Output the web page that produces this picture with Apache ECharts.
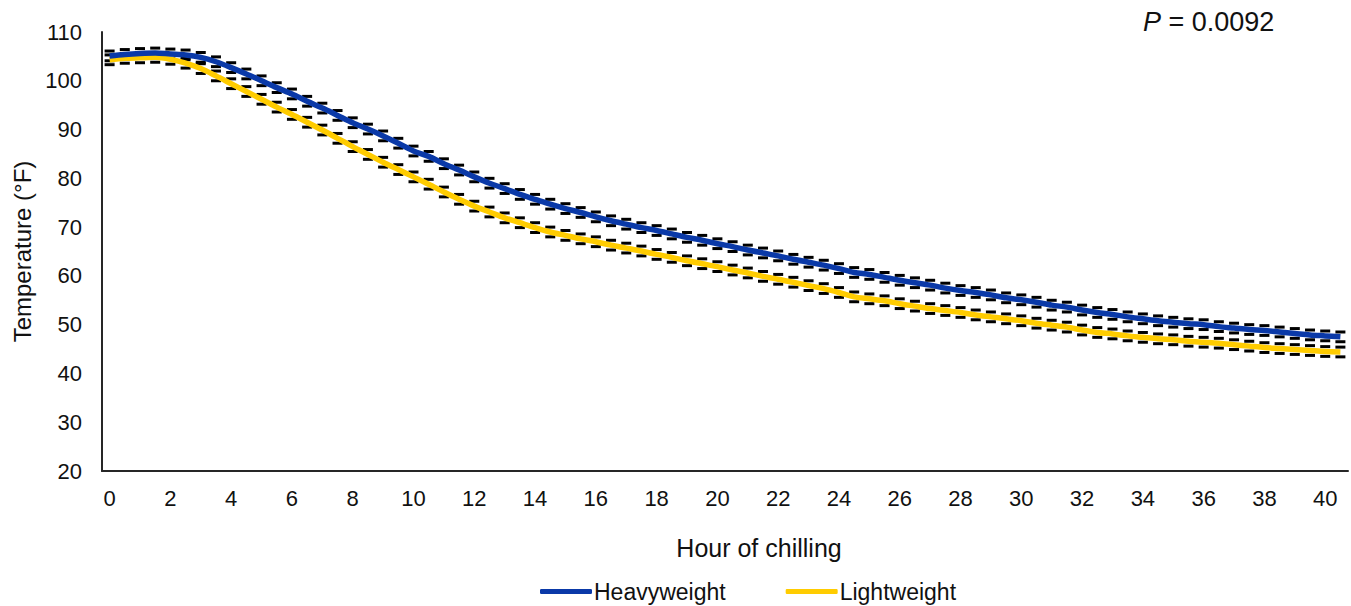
<!DOCTYPE html>
<html>
<head>
<meta charset="utf-8">
<script src="https://cdn.jsdelivr.net/npm/echarts@6/dist/echarts.min.js"></script>
<style>
html,body{margin:0;padding:0;background:#fff;}
#chart{width:1351px;height:606px;}
</style>
</head>
<body>
<div id="chart"></div>
<script>
// Hour of chilling (every 0.5 h)
const hours = [0,0.5,1,1.5,2,2.5,3,3.5,4,4.5,5,5.5,6,6.5,7,7.5,8,8.5,9,9.5,10,10.5,11,11.5,12,12.5,13,13.5,14,14.5,15,15.5,16,16.5,17,17.5,18,18.5,19,19.5,20,20.5,21,21.5,22,22.5,23,23.5,24,24.5,25,25.5,26,26.5,27,27.5,28,28.5,29,29.5,30,30.5,31,31.5,32,32.5,33,33.5,34,34.5,35,35.5,36,36.5,37,37.5,38,38.5,39,39.5,40,40.5];

const heavyweight = [105.1,105.4,105.6,105.7,105.5,105.3,104.8,103.9,102.7,101.4,100.0,98.6,97.3,95.8,94.4,92.9,91.4,90.1,88.7,87.2,85.6,84.5,83.0,81.7,80.3,79.0,77.9,76.7,75.7,74.7,73.8,73.0,72.1,71.3,70.6,69.9,69.3,68.6,67.9,67.3,66.6,66.0,65.3,64.7,64.1,63.4,62.8,62.2,61.5,60.7,60.3,59.7,59.1,58.6,58.1,57.5,57.0,56.6,56.1,55.5,55.1,54.6,54.0,53.6,53.0,52.5,52.1,51.6,51.2,50.8,50.5,50.2,50.0,49.6,49.3,49.0,48.8,48.5,48.2,47.9,47.7,47.5];

const lightweight = [104.3,104.6,104.7,104.8,104.4,103.6,102.5,101.0,99.4,97.8,96.2,94.6,93.1,91.5,89.9,88.2,86.5,84.9,83.3,81.8,80.3,78.8,77.2,75.7,74.3,73.1,71.9,70.9,69.9,69.0,68.3,67.6,67.0,66.3,65.7,65.1,64.4,63.8,63.1,62.5,61.9,61.2,60.6,59.9,59.3,58.7,58.0,57.4,56.6,55.7,55.3,54.9,54.3,53.8,53.3,52.9,52.5,52.0,51.6,51.2,50.8,50.3,49.9,49.5,48.9,48.4,48.1,47.7,47.4,47.1,46.9,46.6,46.4,46.2,45.9,45.6,45.3,45.1,44.9,44.7,44.5,44.4];

// standard error (°F) of each group
const seHeavyweight = 1.0;
const seLightweight = 1.0;

const yTicks = {min: 20, max: 110, interval: 10};

const FONT = "'Liberation Sans', Arial, sans-serif";

function errData(vals, se) {
  return vals.map((v, i) => [i, v, se]);
}

function renderCaps(params, api) {
  const x = api.value(0), v = api.value(1), e = api.value(2);
  const hi = api.coord([x, v + e]);
  const lo = api.coord([x, v - e]);
  const hw = 5;
  const st = {stroke: '#000', lineWidth: 3};
  return {
    type: 'group',
    children: [
      {type: 'line', shape: {x1: hi[0] - hw, y1: hi[1], x2: hi[0] + hw, y2: hi[1]}, style: st},
      {type: 'line', shape: {x1: lo[0] - hw, y1: lo[1], x2: lo[0] + hw, y2: lo[1]}, style: st}
    ]
  };
}

const chart = echarts.init(document.getElementById('chart'), null, {renderer: 'svg'});
chart.setOption({
  animation: false,
  backgroundColor: '#fff',
  textStyle: {fontFamily: FONT},
  grid: {left: 102, right: 3, top: 32, bottom: 135, containLabel: false},
  legend: {
    data: [{name: 'Heavyweight', icon: 'roundRect'}, {name: 'Lightweight', icon: 'roundRect'}],
    left: 535, top: 575,
    itemWidth: 52, itemHeight: 5, itemGap: 60,
    textStyle: {fontFamily: FONT, fontSize: 23, color: '#111', padding: [0, 0, 0, -3]},
    selectedMode: false
  },
  xAxis: {
    type: 'category',
    data: hours,
    boundaryGap: true,
    name: 'Hour of chilling',
    nameLocation: 'middle',
    nameGap: 64,
    nameTextStyle: {fontFamily: FONT, fontSize: 25, color: '#111', padding: [0, 0, 0, 68]},
    axisLine: {lineStyle: {color: '#262626', width: 2}},
    axisTick: {show: false},
    axisLabel: {interval: 3, fontFamily: FONT, fontSize: 22, color: '#111', margin: 16},
    splitLine: {show: false}
  },
  yAxis: {
    type: 'value',
    min: yTicks.min, max: yTicks.max, interval: yTicks.interval,
    name: 'Temperature (°F)',
    nameLocation: 'middle',
    nameGap: 68,
    nameTextStyle: {fontFamily: FONT, fontSize: 24, color: '#111'},
    axisLine: {show: true, lineStyle: {color: '#262626', width: 2}},
    axisTick: {show: false},
    axisLabel: {fontFamily: FONT, fontSize: 22, color: '#111', margin: 20},
    splitLine: {show: false}
  },
  graphic: [{
    type: 'text', left: 1143, top: 8,
    style: {
      text: '{i|P}{n| = 0.0092}',
      rich: {
        i: {fontFamily: FONT, fontSize: 27, fontStyle: 'italic', fill: '#111'},
        n: {fontFamily: FONT, fontSize: 27, fill: '#111'}
      }
    }
  }],
  series: [
    {name: 'Heavyweight SE', type: 'custom', renderItem: renderCaps, data: errData(heavyweight, seHeavyweight), encode: {x: 0, y: 1}, z: 1, silent: true},
    {name: 'Lightweight SE', type: 'custom', renderItem: renderCaps, data: errData(lightweight, seLightweight), encode: {x: 0, y: 1}, z: 1, silent: true},
    {name: 'Heavyweight', type: 'line', data: heavyweight, smooth: 0.3, symbol: 'none', z: 3,
     itemStyle: {color: '#0A39A8'}, lineStyle: {color: '#0A39A8', width: 5.5}},
    {name: 'Lightweight', type: 'line', data: lightweight, smooth: 0.3, symbol: 'none', z: 2,
     itemStyle: {color: '#FFCC00'}, lineStyle: {color: '#FFCC00', width: 5.5}}
  ]
});
</script>
</body>
</html>
